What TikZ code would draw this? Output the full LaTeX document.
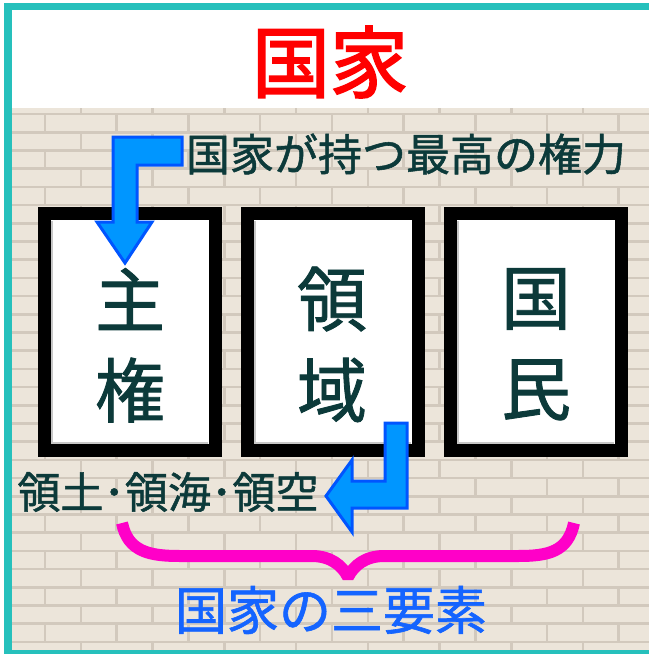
\documentclass[tikz,border=0pt]{standalone}
\usepackage{fontspec}
\newfontfamily\jp{Noto Sans CJK JP}
\newfontfamily\jpm[FakeBold=1.2]{Noto Sans CJK JP}
\newfontfamily\jpt[FakeBold=2.2]{Noto Sans CJK JP}
\definecolor{teal1}{RGB}{38,192,188}
\definecolor{brickc}{RGB}{236,229,218}
\definecolor{mortarc}{RGB}{210,201,189}
\definecolor{inkc}{RGB}{12,58,58}
\definecolor{titlered}{RGB}{255,0,0}
\definecolor{bluetxt}{RGB}{20,100,255}
\definecolor{arrowfill}{RGB}{0,150,255}
\definecolor{arrowline}{RGB}{0,85,255}
\definecolor{bracec}{RGB}{255,0,200}
\tikzset{
  mortar/.style={draw=mortarc,line width=2.6pt},
  frame/.style={draw=black,line width=13pt,fill=white,minimum width=171pt,minimum height=237pt,inner sep=0pt,outer sep=0pt},
  innershade/.style={draw=black!22,line width=2pt},
  bigchar/.style={inner sep=0pt,text=inkc,font=\jpm\fontsize{70}{70}\selectfont},
  label/.style={inner sep=0pt,text=inkc},
  bluearrow/.style={fill=arrowfill,draw=arrowline,line width=3pt,line join=miter},
}
\begin{document}
\begin{tikzpicture}[x=1pt,y=-1pt]
\useasboundingbox (0,0) rectangle (649,654);
\fill[white] (0,0) rectangle (649,654);
% brick wall
\begin{scope}
\clip (12,108) rectangle (649,650);
\fill[brickc] (12,108) rectangle (649,650);
\foreach \k in {-1,...,29} {
  \pgfmathsetmacro{\ya}{114+18.2*\k}
  \pgfmathsetmacro{\yb}{\ya+18.2}
  \pgfmathsetmacro{\off}{mod(\k+10,2)==1 ? 81 : 45}
  \draw[mortar] (12,\ya) -- (649,\ya);
  \foreach \j in {-1,...,9} {
    \draw[mortar] ({\off+71.7*\j},\ya) -- ({\off+71.7*\j},\yb);
  }
}
\end{scope}
% teal border
\fill[teal1] (4,3) rectangle (649,10);
\fill[teal1] (4,3) rectangle (12,654);
\fill[teal1] (4,650) rectangle (649,654);
% title
\node[inner sep=0pt,text=titlered,font=\jpt\fontsize{78}{78}\selectfont] (title) at (330,62) {国家};
% boxes
\node[frame] (b1) at (130,332) {};
\node[frame] (b2) at (332.5,332) {};
\node[frame] (b3) at (535.5,332) {};
\foreach \b in {b1,b2,b3} {
  \draw[innershade] ([shift={(7.5,7.5)}]\b.north west) -- ([shift={(7.5,-7.5)}]\b.south west) -- ([shift={(-7.5,-7.5)}]\b.south east);
}
\node[bigchar] (c11) at (130,299) {主};
\node[bigchar] (c12) at (130,390) {権};
\node[bigchar] (c21) at (332,299) {領};
\node[bigchar] (c22) at (332,390) {域};
\node[bigchar] (c31) at (536,299) {国};
\node[bigchar] (c32) at (536,390) {民};
% labels
\node[label,font=\jpm\fontsize{44}{44}\selectfont] (top) at (406,154) {国家が持つ最高の権力};
\node[label,font=\jpm\fontsize{43}{43}\selectfont] (terr) at (168,492) {領土･領海･領空};
\node[inner sep=0pt,text=bluetxt,font=\jpm\fontsize{52}{52}\selectfont] (three) at (331,610) {国家の三要素};
% arrows
\coordinate (a1t) at (125,263);
\draw[bluearrow] (182,137) -- (113,137) -- (113,222) -- (97,222) -- (a1t) -- (152,222) -- (137,222) -- (137,165) -- (182,165) -- cycle;
\coordinate (a2t) at (326,496);
\draw[bluearrow] (385,423) -- (407,423) -- (407,508) -- (352,508) -- (352,532) -- (a2t) -- (352,460) -- (352,481) -- (385,481) -- cycle;
% brace
\draw[bracec,line width=12pt,line join=bevel]
  (122,523) .. controls (128,552) and (150,556) .. (180,556) -- (312,556)
  .. controls (330,556) and (342,565) .. (348,577)
  .. controls (354,565) and (366,556) .. (384,556) -- (518,556)
  .. controls (548,556) and (568,552) .. (574,523);
\end{tikzpicture}
\end{document}
